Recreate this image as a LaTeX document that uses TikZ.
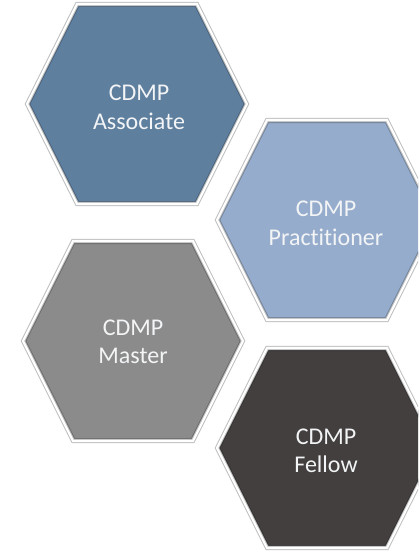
\documentclass[tikz,border=0pt]{standalone}
\usepackage{fontspec}
\setmainfont{Carlito}[Ligatures={NoCommon}]
\definecolor{assoc}{HTML}{5F7F9E}
\definecolor{pract}{HTML}{96ACCC}
\definecolor{mastr}{HTML}{8B8B8B}
\definecolor{fellw}{HTML}{433F3F}
\definecolor{txt}{HTML}{F2F4F6}
\newcommand{\myhexpath}[3]{(#1-60+#3*0.618,#2-100+#3) -- (#1+60-#3*0.618,#2-100+#3) -- (#1+110-#3*1.118,#2) -- (#1+60-#3*0.618,#2+100-#3) -- (#1-60+#3*0.618,#2+100-#3) -- (#1-110+#3*1.118,#2) -- cycle}
\newcommand{\myhex}[3]{%
  \fill[#3] \myhexpath{#1}{#2}{0};
  \draw[#3!75!black, line width=1.6pt, line join=miter] \myhexpath{#1}{#2}{2.2};
  \draw[gray!50, line width=4.2pt, line join=miter] \myhexpath{#1}{#2}{0};
  \draw[white, line width=2.2pt, line join=miter] \myhexpath{#1}{#2}{0};
}
\tikzset{lbl/.style={text=txt, font=\fontsize{24}{29}\selectfont, anchor=base, inner sep=0pt}}
\begin{document}
\begin{tikzpicture}[x=1pt, y=-1pt]
\useasboundingbox (0,0) rectangle (418,551);
\clip (0,0) rectangle (418,551);
\myhex{137}{104}{assoc}
\myhex{327}{220}{pract}
\myhex{133}{341}{mastr}
\myhex{327}{448}{fellw}
\node[lbl] (a1) at (139,100) {CDMP};
\node[lbl] (a2) at (139,129) {Associate};
\node[lbl] (p1) at (326,216) {CDMP};
\node[lbl] (p2) at (326,245) {Practitioner};
\node[lbl] (m1) at (133,335) {CDMP};
\node[lbl] (m2) at (133,363) {Master};
\node[lbl] (f1) at (326,444) {CDMP};
\node[lbl] (f2) at (326,472) {Fellow};
\end{tikzpicture}
\end{document}
